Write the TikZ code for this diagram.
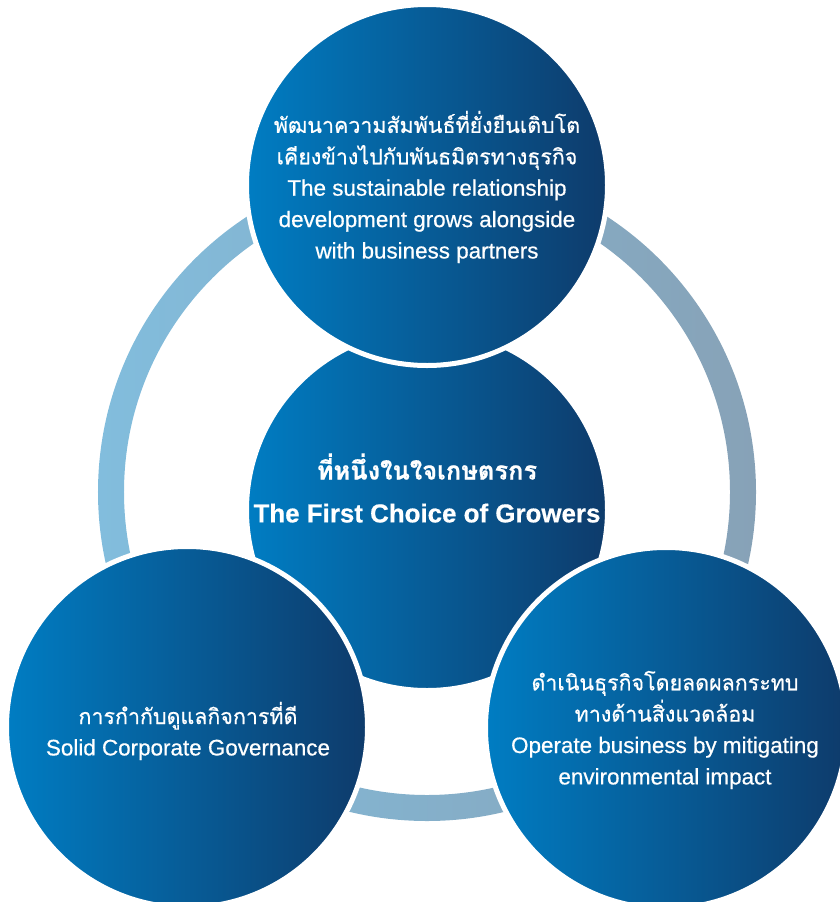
\documentclass[tikz,border=0pt]{standalone}
\usepackage{fontspec}
\setmainfont{Liberation Sans}[FakeBold=0.6]
\newfontfamily\thaifont[Script=Thai,FakeBold=0.6]{Loma}
\usetikzlibrary{positioning}
\definecolor{ballleft}{HTML}{007DC3}
\definecolor{ballright}{HTML}{0E3B6B}
\definecolor{ringleft}{HTML}{82BDDD}
\definecolor{ringright}{HTML}{87A2B7}

\begin{document}
\begin{tikzpicture}[x=1bp, y=-1bp,
  ball/.style={circle, minimum size=361bp, inner sep=0pt, left color=ballleft, right color=ballright, draw=white, line width=5bp},
  caption/.style={text=white, align=center, inner sep=0pt, font=\fontsize{22.5}{31.5}\selectfont}];

\useasboundingbox (0,0) rectangle (840,902);

% ring behind the balls
\coordinate (hub) at (427,492);
\shade[left color=ringleft, right color=ringright, even odd rule] (hub) circle (329bp) (hub) circle (303bp);

\node[ball] (core) at (427,510) {};
\node[ball] (partners) at (427,185) {};
\node[ball] (governance) at (187,727) {};
\node[ball] (environment) at (666,728) {};

\node[caption] (partners-text) at (427,187) {%
  {\thaifont\fontsize{21.5}{31.5}\selectfont พัฒนาความสัมพันธ์ที่ยั่งยืนเติบโต}\\
  {\thaifont\fontsize{21.5}{31.5}\selectfont เคียงข้างไปกับพันธมิตรทางธุรกิจ}\\
  The sustainable relationship\\
  development grows alongside\\
  with business partners};

\node[caption, font=\bfseries\fontsize{26}{43}\selectfont] (core-text) at (427,488) {%
  {\thaifont\fontsize{25.5}{43}\selectfont ที่หนึ่งในใจเกษตรกร}\\
  The First Choice of Growers};

\node[caption] (governance-text) at (188,731) {%
  {\thaifont\fontsize{21.5}{31.5}\selectfont การกำกับดูแลกิจการที่ดี}\\
  Solid Corporate Governance};

\node[caption] (environment-text) at (665,730) {%
  {\thaifont\fontsize{21.5}{31.5}\selectfont ดำเนินธุรกิจโดยลดผลกระทบ}\\
  {\thaifont\fontsize{21.5}{31.5}\selectfont ทางด้านสิ่งแวดล้อม}\\
  Operate business by mitigating\\
  environmental impact};
\end{tikzpicture}
\end{document}
